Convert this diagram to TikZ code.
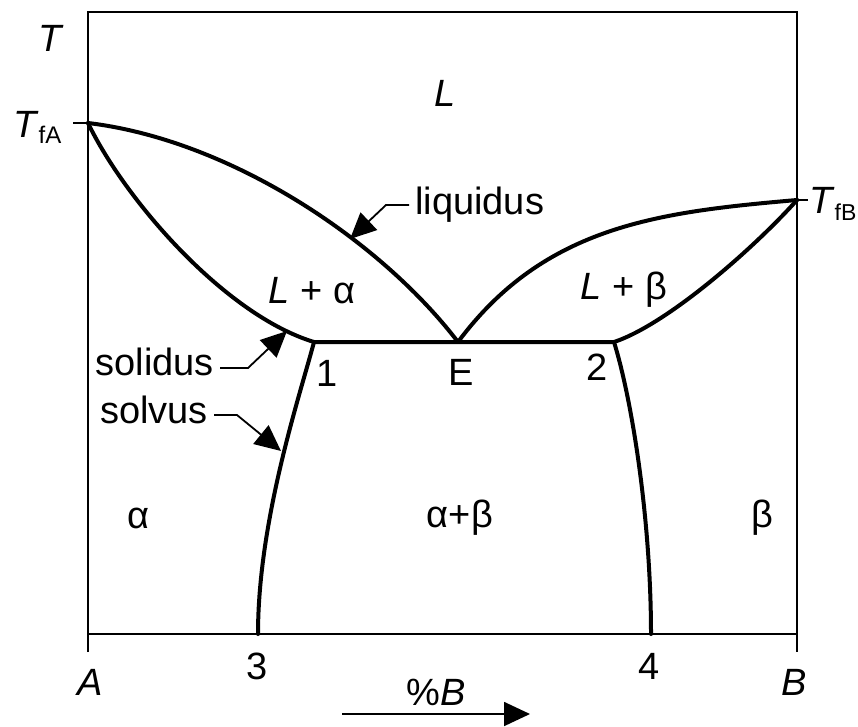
\documentclass[tikz,border=0pt]{standalone}
\usepackage{fontspec}
\setmainfont{Liberation Sans}
\usetikzlibrary{arrows.meta}
\begin{document}
\begin{tikzpicture}[x=1pt,y=-1pt,
  curve/.style={line width=4pt, line cap=round, line join=round},
  frame/.style={line width=1.8pt},
  lead/.style={line width=1.8pt, -{Triangle[length=26pt,width=24pt]}},
  lbl/.style={font=\fontsize{38}{42}\selectfont, inner sep=2pt},
  ilbl/.style={font=\fontsize{38}{42}\selectfont\itshape, inner sep=2pt}
]
\useasboundingbox (0,0) rectangle (858,726);
% frame
\coordinate (TL) at (88,12);
\coordinate (TR) at (797,12);
\coordinate (BL) at (88,634);
\coordinate (BR) at (797,634);
\coordinate (Atick) at (88,652);
\coordinate (Btick) at (797,652);
\coordinate (TfA) at (88,123);
\coordinate (TfAt) at (73,123);
\coordinate (TfB) at (797,200);
\coordinate (TfBt) at (808,200);
\coordinate (P1) at (314,342);
\coordinate (E) at (458,342);
\coordinate (P2) at (614,342);
\coordinate (P3) at (258,634);
\coordinate (P4) at (651,634);
\draw[frame] (Atick) -- (TL) -- (TR) -- (Btick);
\draw[frame] (BL) -- (BR);
\draw[frame] (TfAt) -- (TfA);
\draw[frame] (TfB) -- (TfBt);
% curves
\draw[curve] (TfA) .. controls (230,140) and (380,240) .. (E);
\draw[curve] (TfA) .. controls (125,200) and (225,315) .. (P1) -- (P2);
\draw[curve] (E) .. controls (545,225) and (660,212) .. (TfB);
\draw[curve] (P2) .. controls (668,324) and (755,247) .. (TfB);
\draw[curve] (P1) .. controls (300,395) and (258,520) .. (P3);
\draw[curve] (P2) .. controls (632,400) and (651,520) .. (P4);
% labels
\node[ilbl] (Tax) at (50,38) {T};
\node[lbl, anchor=base west, inner sep=0pt] (TfAlbl) at (13,137) {\textit{T}{\fontsize{24}{26}\selectfont\raisebox{-6pt}{fA}}};
\node[lbl, anchor=base west, inner sep=0pt] (TfBlbl) at (809,213) {\textit{T}{\fontsize{23}{26}\selectfont\raisebox{-7pt}{fB}}};
\node[ilbl] (Lreg) at (445,93) {L};
\node[lbl, anchor=west, inner sep=6pt] (liq) at (409,205) {liquidus};
\node[lbl] (La) at (312,291) {\textit{L} + α};
\node[lbl] (Lb) at (624,290) {\textit{L} + β};
\node[lbl, anchor=east, inner sep=6pt] (sol) at (220,362) {solidus};
\node[lbl, anchor=east, inner sep=6pt] (solv) at (214,410) {solvus};
\node[lbl] (n1) at (327,373) {1};
\node[lbl] (nE) at (461,372) {E};
\node[lbl] (n2) at (597,367) {2};
\node[lbl] (ra) at (138,518) {α};
\node[lbl] (rab) at (460,518) {α+β};
\node[lbl] (rb) at (762,518) {β};
\node[ilbl] (Alb) at (90,682) {A};
\node[lbl] (n3) at (257,666) {3};
\node[lbl] (n4) at (649,666) {4};
\node[ilbl] (Blb) at (794,682) {B};
\node[lbl] (pB) at (436,692) {\%\textit{B}};
% leaders
\coordinate (liqA) at (386,205);
\coordinate (liqT) at (350,239);
\draw[lead] (liq.west) -- (liqA) -- (liqT);
\coordinate (solA) at (248,368);
\coordinate (solT) at (287,331);
\draw[lead] (sol.east |- solA) -- (solA) -- (solT);
\coordinate (solvA) at (237,415);
\coordinate (solvT) at (281,451);
\draw[lead] (solv.east |- solvA) -- (solvA) -- (solvT);
% composition arrow
\coordinate (arS) at (342,714);
\coordinate (arE) at (530,714);
\draw[lead] (arS) -- (arE);
\end{tikzpicture}
\end{document}
